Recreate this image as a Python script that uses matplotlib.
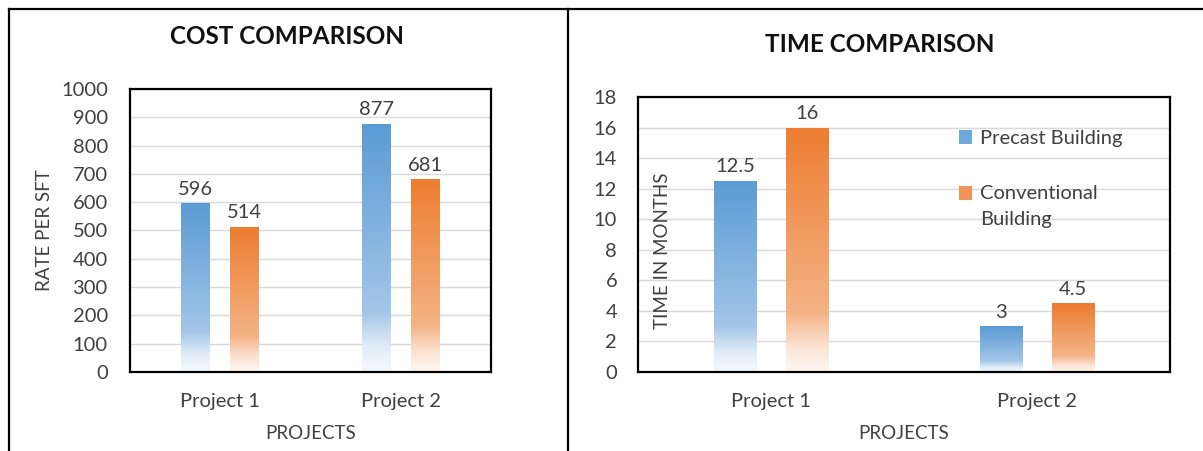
import numpy as np
import matplotlib.pyplot as plt
from matplotlib.colors import LinearSegmentedColormap
from matplotlib.patches import Patch, Rectangle
from matplotlib.legend_handler import HandlerPatch
from matplotlib.lines import Line2D

plt.rcParams['font.family'] = ['Lato', 'DejaVu Sans']

# data
projects = ['Project 1', 'Project 2']
series_names = ['Precast Building', 'Conventional\nBuilding']
cost_precast = [596, 877]
cost_conventional = [514, 681]
time_precast = [12.5, 3]
time_conventional = [16, 4.5]

TXT = '#404040'
BLUE = '#5B9BD5'
ORANGE = '#ED7D31'

# excel style gradient: solid on top, fading to white at the base
blue_cmap = LinearSegmentedColormap.from_list(
    'blue_fade', [(0, '#F6FAFD'), (0.1, '#E1ECF7'), (0.24, '#A3C6E8'), (1, BLUE)])
orange_cmap = LinearSegmentedColormap.from_list(
    'orange_fade', [(0, '#FEF8F4'), (0.1, '#FBE3D3'), (0.24, '#F4B386'), (1, ORANGE)])

W, H = 1203, 451
fig = plt.figure(figsize=(W / 100, H / 100), dpi=100)


def box(l, t, r, b):
    return [l / W, 1 - b / H, (r - l) / W, (b - t) / H]


def grad_bars(ax, xs, vals, cmap, width=0.16):
    bars = ax.bar(xs, vals, width, color='none', edgecolor='none', zorder=3)
    g = np.linspace(0, 1, 256).reshape(-1, 1)
    for b in bars:
        x0, y0 = b.get_x(), b.get_y()
        im = ax.imshow(g, cmap=cmap, origin='lower', aspect='auto', zorder=2,
                       extent=[x0, x0 + b.get_width(), y0, y0 + b.get_height()])
        im.set_clip_path(b)
    return bars


def setup(ax, top, step, ylabel):
    x = np.arange(len(projects))
    ax.set_xlim(-0.5, len(projects) - 0.5)
    ax.set_ylim(0, top)
    ax.set_yticks(np.arange(0, top + step, step))
    ax.set_xticks(x)
    ax.set_xticklabels(projects)
    ax.yaxis.grid(True, color='#D9D9D9', lw=1)
    ax.set_axisbelow(True)
    for s in ax.spines.values():
        s.set_color('black')
        s.set_linewidth(1.6)
    ax.tick_params(length=0, labelsize=14.5, labelcolor=TXT)
    ax.tick_params(axis='x', pad=15)
    ax.set_xlabel('PROJECTS', fontsize=13.5, color=TXT, labelpad=11)
    ax.set_ylabel(ylabel, fontsize=13.5, color=TXT)


off = 0.135

# --- COST ---
ax1 = fig.add_axes(box(130, 89, 491, 372))
x = np.arange(len(projects))
b1 = grad_bars(ax1, x - off, cost_precast, blue_cmap)
b2 = grad_bars(ax1, x + off, cost_conventional, orange_cmap)
setup(ax1, 1000, 100, 'RATE PER SFT')
ax1.tick_params(axis='y', pad=16)
ax1.yaxis.set_label_coords(-0.213, 0.5)
for bars, vals in [(b1, cost_precast), (b2, cost_conventional)]:
    ax1.bar_label(bars, labels=[f'{v:g}' for v in vals], padding=4, fontsize=14.5, color=TXT)

# --- TIME ---
ax2 = fig.add_axes(box(638, 97, 1170, 372))
b3 = grad_bars(ax2, x - off, time_precast, blue_cmap)
b4 = grad_bars(ax2, x + off, time_conventional, orange_cmap)
setup(ax2, 18, 2, 'TIME IN MONTHS')
ax2.tick_params(axis='y', pad=15)
ax2.yaxis.set_label_coords(0.062, 0.44)
for bars, vals in [(b3, time_precast), (b4, time_conventional)]:
    ax2.bar_label(bars, labels=[f'{v:g}' for v in vals], padding=4, fontsize=14.5, color=TXT)


# legend key sits next to the first line of a wrapped label, like excel does
def top_key(legend, orig_handle, xdescent, ydescent, width, height, fontsize):
    lines = orig_handle.get_label().count('\n')
    return Rectangle((-xdescent, -ydescent + lines * 10), width, height)


handles = [Patch(facecolor='#6FA8DC', label=series_names[0]),
           Patch(facecolor='#F0955A', label=series_names[1])]
leg = ax2.legend(handles=handles, loc='upper left', frameon=False,
                 bbox_to_anchor=(959 / W, 1 - 130 / H), bbox_transform=fig.transFigure,
                 borderpad=0, borderaxespad=0, handlelength=0.65, handleheight=0.65,
                 handletextpad=0.4, labelspacing=1.9, fontsize=14.5,
                 handler_map={Patch: HandlerPatch(patch_func=top_key)})
for t in leg.get_texts():
    t.set_color(TXT)
    t.set_linespacing(1.65)
    t.set_multialignment('left')

# titles
fig.text(287 / W, 1 - 36 / H, 'COST COMPARISON', ha='center', va='center',
         fontsize=17.5, fontweight='bold', color='#111111')
fig.text(880 / W, 1 - 45 / H, 'TIME COMPARISON', ha='center', va='center',
         fontsize=17.5, fontweight='bold', color='#111111')

# panel borders
for xs, ys in [([9, 9], [451, 9]), ([9, W], [9, 9]), ([568, 568], [451, 9])]:
    fig.add_artist(Line2D([v / W for v in xs], [1 - v / H for v in ys],
                          color='black', lw=1.6))

fig.savefig('out.png', dpi=100)
